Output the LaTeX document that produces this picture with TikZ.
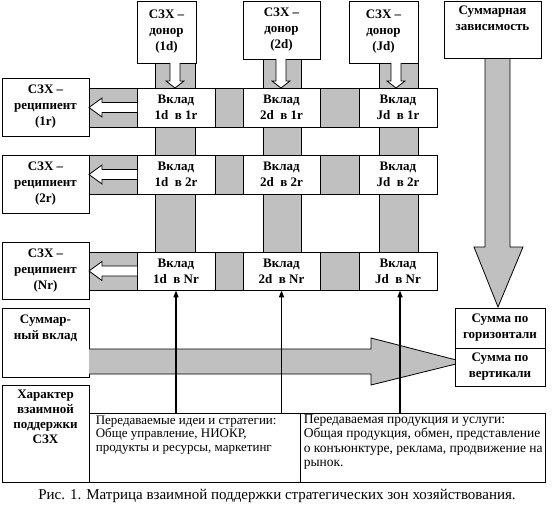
\documentclass[tikz,border=0pt]{standalone}
\usepackage{fontspec}
\setmainfont{Liberation Serif}
\usetikzlibrary{arrows.meta}
\definecolor{greyc}{RGB}{192,192,192}
\newcommand\bx[7]{%
  \pgfmathsetmacro\bxw{#5-#3}\pgfmathsetmacro\bxh{#6-#4}%
  \node[#1, minimum width=\bxw pt, minimum height=\bxh pt] (#2) at ({(#3+#5)/2},{(#4+#6)/2}) {#7};}
\begin{document}
\begin{tikzpicture}[x=1pt,y=-1pt,
  bf/.style={font=\fontsize{13}{16}\selectfont\bfseries},
  wbox/.style={draw, fill=white, inner sep=0pt, align=center, line width=0.8pt},
  gfill/.style={draw, fill=greyc, line width=0.8pt},
  warrow/.style={draw, fill=white, line width=0.8pt},
  blk/.style={line width=1.6pt, -{Triangle[length=7pt,width=5pt]}},
  reg/.style={font=\fontsize{13}{13.5}\selectfont, align=left, inner sep=0pt}]
\useasboundingbox (0,0) rectangle (552,511);
% vertical grey bars
\draw[gfill] (155,62) rectangle (195,252);
\draw[gfill] (263,59) rectangle (301,252);
\draw[gfill] (379,62) rectangle (418,252);
% horizontal grey bands
\draw[gfill] (89,88) rectangle (437,127);
\draw[gfill] (89,155) rectangle (437,194);
\draw[gfill] (89,252) rectangle (437,290);
% big vertical arrow
\draw[gfill] (485,58) -- (485,247) -- (474,247) -- (498,307) -- (523,247) -- (510,247) -- (510,58);
% donor boxes
\bx{wbox,bf}{d1}{137}{1}{196}{63}{СЗХ –\\донор\\(1d)}
\bx{wbox,bf}{d2}{243}{1}{320}{59}{СЗХ –\\донор\\(2d)}
\bx{wbox,bf}{dJ}{349}{1}{418}{63}{СЗХ –\\донор\\(Jd)}
\bx{wbox}{sd}{444}{1}{541}{58}{}
\node[bf, align=center, anchor=north, inner sep=0pt] (sdt) at ([yshift=-5pt]sd.north) {Суммарная\\зависимость};
% recipient boxes
\bx{wbox,bf}{r1}{2}{78}{89}{136}{СЗХ –\\реципиент\\(1r)}
\bx{wbox,bf}{r2}{2}{155}{89}{213}{СЗХ –\\реципиент\\(2r)}
\bx{wbox,bf}{rN}{2}{242}{89}{299}{СЗХ –\\реципиент\\(Nr)}
% cells
\bx{wbox,bf}{c11}{137}{88}{215}{127}{Вклад\\1d~ в 1r}
\bx{wbox,bf}{c21}{243}{88}{320}{127}{Вклад\\2d~ в 1r}
\bx{wbox,bf}{cJ1}{359}{88}{437}{127}{Вклад\\Jd~ в 1r}
\bx{wbox,bf}{c12}{137}{155}{215}{194}{Вклад\\1d~ в 2r}
\bx{wbox,bf}{c22}{243}{155}{320}{194}{Вклад\\2d~ в 2r}
\bx{wbox,bf}{cJ2}{359}{155}{437}{194}{Вклад\\Jd~ в 2r}
\bx{wbox,bf}{c1N}{137}{252}{215}{290}{Вклад\\1d~ в Nr}
\bx{wbox,bf}{c2N}{243}{252}{320}{290}{Вклад\\2d~ в Nr}
\bx{wbox,bf}{cJN}{359}{252}{437}{290}{Вклад\\Jd~ в Nr}
% white down arrows
\foreach \c/\t in {175/63, 281/59, 396/63}{
  \draw[warrow] (\c-5,\t) -- (\c-5,81) -- (\c-9,81) -- (\c,88) -- (\c+9,81) -- (\c+5,81) -- (\c+5,\t);
}
% white left arrows
\foreach \m in {107.5, 174.5, 271}{
  \draw[warrow] (137,\m-5) -- (102,\m-5) -- (102,\m-9.5) -- (89,\m) -- (102,\m+9.5) -- (102,\m+5) -- (137,\m+5);
}
% summary contribution
\bx{wbox}{sc}{2}{308}{89}{377}{}
\node[bf, align=center, anchor=north, inner sep=0pt] (sct) at ([yshift=-7pt]sc.north) {Суммар-\\ный вклад};
% big horizontal arrow
\draw[gfill] (89,349) -- (371,349) -- (371,338) -- (464,362) -- (371,385) -- (371,374) -- (89,374);
% sum boxes
\bx{wbox,bf}{sh}{455}{308}{545}{348}{Сумма по\\горизонтали}
\bx{wbox,bf}{sv}{455}{348}{545}{386}{Сумма по\\вертикали}
% bottom
\bx{wbox}{ch}{2}{385}{89}{482}{}
\node[bf, align=center, anchor=north, inner sep=0pt, font=\fontsize{13}{15}\selectfont\bfseries] (cht) at ([yshift=-5pt]ch.north) {Характер\\взаимной\\поддержки\\СЗХ};
\bx{wbox}{t1}{89}{413}{300}{482}{}
\bx{wbox}{t2}{300}{413}{545}{482}{}
\node[reg, anchor=north west] (t1t) at ([xshift=7pt,yshift=-3pt]t1.north west) {Передаваемые идеи и стратегии:\\Обще управление, НИОКР,\\продукты и ресурсы, маркетинг};
\node[reg, anchor=north west, font=\fontsize{13.5}{14.3}\selectfont] (t2t) at ([xshift=4pt,yshift=-2pt]t2.north west) {Передаваемая продукция и услуги:\\Общая продукция, обмен, представление\\о конъюнктуре, реклама, продвижение на\\рынок.};
% black arrows
\draw[blk] (c1N.south |- t1.north) -- (c1N.south);
\draw[blk] (c2N.south |- t1.north) -- (c2N.south);
\draw[blk] ([xshift=2pt]cJN.south |- t2.north) -- ([xshift=2pt]cJN.south);
% caption
\node[font=\fontsize{15}{17}\selectfont, inner sep=0pt] (cap) at (277,496) {Рис. 1. Матрица взаимной поддержки стратегических зон хозяйствования.};
\end{tikzpicture}
\end{document}
